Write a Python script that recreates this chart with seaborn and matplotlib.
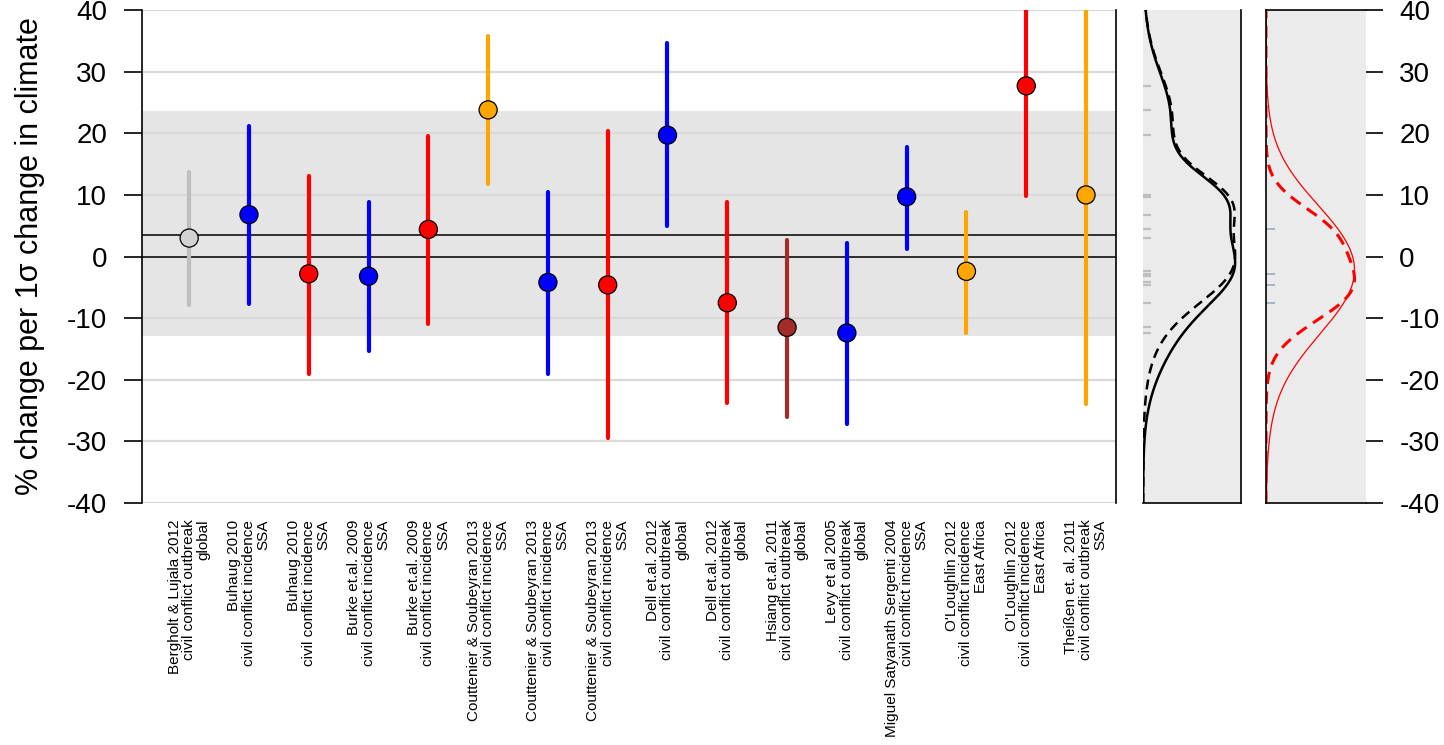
import numpy as np
import pandas as pd
import matplotlib
matplotlib.use('Agg')
import matplotlib.pyplot as plt
import seaborn as sns

# studies, point estimates and 95% intervals (% change per 1 sd of climate)
studies = ['Bergholt & Lujala 2012\ncivil conflict outbreak\nglobal',
           'Buhaug 2010\ncivil conflict incidence\nSSA',
           'Buhaug 2010\ncivil conflict incidence\nSSA',
           'Burke et.al. 2009\ncivil conflict incidence\nSSA',
           'Burke et.al. 2009\ncivil conflict incidence\nSSA',
           'Couttenier & Soubeyran 2013\ncivil conflict incidence\nSSA',
           'Couttenier & Soubeyran 2013\ncivil conflict incidence\nSSA',
           'Couttenier & Soubeyran 2013\ncivil conflict incidence\nSSA',
           'Dell et.al. 2012\ncivil conflict outbreak\nglobal',
           'Dell et.al. 2012\ncivil conflict outbreak\nglobal',
           'Hsiang et.al. 2011\ncivil conflict outbreak\nglobal',
           'Levy et al 2005\ncivil conflict outbreak\nglobal',
           'Miguel Satyanath Sergenti 2004\ncivil conflict incidence\nSSA',
           "O'Loughlin 2012\ncivil conflict incidence\nEast Africa",
           "O'Loughlin 2012\ncivil conflict incidence\nEast Africa",
           'Theißen et. al. 2011\ncivil conflict outbreak\nSSA']
estimate = [3.0, 6.8, -2.8, -3.2, 4.4, 23.8, -4.2, -4.6, 19.7, -7.5, -11.5, -12.4, 9.7, -2.4, 27.7, 10.0]
lower = [-7.9, -7.7, -19.0, -15.4, -10.9, 11.8, -19.0, -29.5, 4.9, -23.8, -26.0, -27.1, 1.3, -12.4, 9.8, -24.0]
upper = [13.7, 21.2, 13.0, 8.8, 19.5, 35.8, 10.4, 20.3, 34.6, 8.8, 2.7, 2.2, 17.8, 7.3, 45.6, 44.0]
bar_col = ['#bebebe', 'blue', 'red', 'blue', 'red', 'orange', 'blue', 'red',
           'blue', 'red', 'brown', 'blue', 'blue', 'orange', 'red', 'orange']
dot_col = ['#d3d3d3'] + bar_col[1:]

band = (-12.9, 23.6)
dashed_subset = [0, 1, 2, 3, 4, 5, 6, 7, 8, 9, 12, 13, 14, 15]   # middle panel, dashed curve
red_subset = [2, 4, 7, 9]   # studies shown in the right-hand panel

df = pd.DataFrame({'study': studies, 'est': estimate, 'lo': lower, 'hi': upper})
df['pos'] = np.arange(len(df))
df['id'] = df['pos'].astype(str)
se = (df['hi'] - df['lo']).values / 3.92
est = np.array(estimate)

grid = np.linspace(-40, 40, 801)


def mixture(mu, sd, w):
    dens = np.zeros_like(grid)
    for m, s, wi in zip(mu, sd, w):
        dens += wi * np.exp(-0.5 * ((grid - m) / s) ** 2) / s
    return dens / dens.max()


sns.set_style('white')
plt.rcParams['font.family'] = ['Liberation Sans', 'DejaVu Sans']
plt.rcParams['axes.unicode_minus'] = False
for k in ['text.color', 'axes.labelcolor', 'xtick.color', 'ytick.color']:
    plt.rcParams[k] = 'black'

fig = plt.figure(figsize=(14.44, 7.45), dpi=100)
ax = fig.add_axes([0.0983, 0.3248, 0.6745, 0.6617])
ax2 = fig.add_axes([0.7916, 0.3248, 0.0679, 0.6617])
ax3 = fig.add_axes([0.8767, 0.3248, 0.0693, 0.6617])

yt = np.arange(-40, 41, 10)

# main panel
ax.axhspan(band[0], band[1], color='#e5e5e5', lw=0, zorder=0)
for v in yt:
    ax.axhline(v, color='#d9d9d9', lw=1.6, zorder=1)
ax.axhline(0, color='black', lw=1.1, zorder=2)
ax.axhline(np.mean(estimate), color='black', lw=1.1, zorder=2)
lc = ax.vlines(df['pos'], df['lo'], df['hi'], colors=bar_col, lw=3, zorder=3)
lc.set_capstyle('round')
sns.scatterplot(data=df, x='pos', y='est', hue='id', palette=dot_col, s=170,
                edgecolor='black', linewidth=0.9, legend=False, zorder=4, ax=ax)
ax.set_xlim(-0.79, 15.5)
ax.set_ylim(-40, 40)
ax.set_yticks(yt)
ax.set_yticklabels([str(v) for v in yt], fontsize=20)
ax.set_xticks(df['pos'])
ax.set_xticklabels(df['study'], rotation=90, fontsize=11, va='top', ha='center',
                   multialignment='right', linespacing=1.05)
ax.tick_params(axis='y', direction='out', length=13, width=1.2, pad=12, left=True)
ax.tick_params(axis='x', length=0, pad=12)
ax.set_xlabel('')
ax.set_ylabel('% change per 1σ change in climate', fontsize=22, labelpad=16)
for side in ['top', 'bottom']:
    ax.spines[side].set_visible(False)
for side in ['left', 'right']:
    ax.spines[side].set_color('black')
    ax.spines[side].set_linewidth(1.2)

# middle panel: all studies
ax2.set_facecolor('#ebebeb')
ax2.hlines(estimate, 0, 0.09, color='#bebebe', lw=1.6)
ax2.plot(mixture(est, se, 1 / se ** 2), grid, color='black', lw=1.8)
d_se = se[dashed_subset]
ax2.plot(mixture(est[dashed_subset], d_se, 1 / d_se ** 2), grid, color='black', lw=1.8,
         ls=(0, (4, 2.5)))
ax2.set_xlim(0, 1.065)
ax2.set_ylim(-40, 40)
ax2.set_xticks([])
ax2.set_yticks([])
ax2.spines['top'].set_visible(False)
ax2.spines['left'].set_visible(False)
for side in ['right', 'bottom']:
    ax2.spines[side].set_color('black')
    ax2.spines[side].set_linewidth(1.2)

# right panel: subset
sub_est = est[red_subset]
sub_se = se[red_subset]
ax3.set_facecolor('#ebebeb')
ax3.hlines(sub_est, 0, 0.1, color='#a9b4c2', lw=1.4)
ax3.plot(mixture(sub_est, sub_se, np.ones(len(sub_se))), grid, color='red', lw=0.9)
ax3.plot(mixture(sub_est, sub_se * 0.55, 1 / sub_se ** 2), grid, color='red', lw=2.2,
         ls=(0, (4, 2.5)))
ax3.set_xlim(0, 1.13)
ax3.set_ylim(-40, 40)
ax3.set_xticks([])
ax3.yaxis.tick_right()
ax3.set_yticks(yt)
ax3.set_yticklabels([str(v) for v in yt], fontsize=20)
ax3.tick_params(axis='y', direction='out', length=12, width=1.2, pad=12, right=True, left=False)
ax3.spines['right'].set_visible(False)
for side in ['left', 'top', 'bottom']:
    ax3.spines[side].set_color('black')
    ax3.spines[side].set_linewidth(1.2)

fig.savefig('out.png', dpi=100)
